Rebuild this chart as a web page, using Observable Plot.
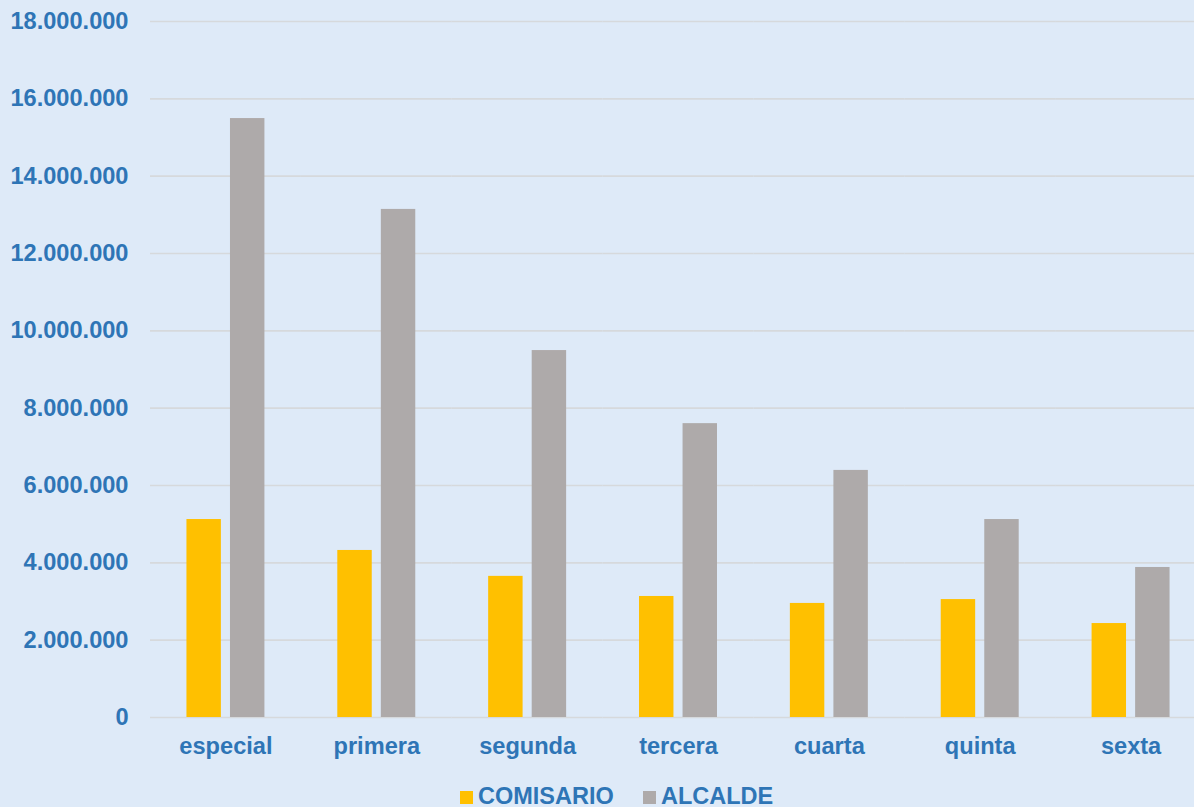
<!DOCTYPE html>
<html>
<head>
<meta charset="utf-8">
<script src="https://cdn.jsdelivr.net/npm/d3@7"></script>
<script src="https://cdn.jsdelivr.net/npm/@observablehq/plot@0.6"></script>
<style>
  html, body { margin: 0; padding: 0; background: #DEEAF8; overflow: hidden; }
  body { width: 1194px; height: 807px; font-family: "Liberation Sans", Arial, sans-serif; }
  #chart { width: 1194px; height: 780px; overflow: hidden; }
  #chart svg { max-width: none !important; width: 1206px !important; height: 780px !important; }
  #legend { position: relative; height: 27px; width: 1194px; }
  #legend .sw { position: absolute; width: 13px; height: 13px; top: 11px; }
  #legend .lb { position: absolute; top: 5px; font-size: 23.5px; line-height: 23px; font-weight: bold; color: #2E75B6; white-space: nowrap; }
</style>
</head>
<body>
<div id="chart"></div>
<div id="legend"></div>
<script>
const categories = ["especial", "primera", "segunda", "tercera", "cuarta", "quinta", "sexta"];
const seriesNames = ["COMISARIO", "ALCALDE"];
const comisario = [5120000, 4320000, 3650000, 3130000, 2950000, 3050000, 2430000];
const alcalde = [15490000, 13140000, 9490000, 7600000, 6390000, 5120000, 3880000];
const yTicks = [0, 2000000, 4000000, 6000000, 8000000, 10000000, 12000000, 14000000, 16000000, 18000000];
const colors = ["#FFC000", "#AEAAAA"];

const data = [];
categories.forEach((c, i) => {
  data.push({cat: c, series: seriesNames[0], value: comisario[i]});
  data.push({cat: c, series: seriesNames[1], value: alcalde[i]});
});

const fmt = d3.formatLocale({decimal: ",", thousands: ".", grouping: [3], currency: ["", "€"]}).format(",d");

const chart = Plot.plot({
  width: 1206,
  height: 780,
  marginLeft: 150,
  marginRight: 0,
  marginTop: 21,
  marginBottom: 63,
  style: {
    background: "#DEEAF8",
    color: "#2E75B6",
    fontFamily: "'Liberation Sans', Arial, sans-serif",
    fontSize: "23.6px",
    fontWeight: "bold",
    maxWidth: "none"
  },
  fx: {domain: categories, padding: 0, round: false, axis: "bottom", label: null, tickSize: 0, tickPadding: 20},
  x: {domain: seriesNames, paddingInner: 0.209, paddingOuter: 0.837, round: false, axis: null},
  y: {domain: [0, 18000000], ticks: yTicks, tickFormat: fmt, tickSize: 0, tickPadding: 22, label: null},
  color: {domain: seriesNames, range: colors},
  marks: [
    Plot.ruleY(yTicks, {stroke: "#D6D9DC", strokeWidth: 1.6}),
    Plot.barY(data, {fx: "cat", x: "series", y: "value", fill: "series"})
  ]
});
document.getElementById("chart").appendChild(chart);

const legend = document.getElementById("legend");
const items = [
  {name: seriesNames[0], color: colors[0], sw: 460, lb: 478},
  {name: seriesNames[1], color: colors[1], sw: 643, lb: 661}
];
items.forEach(it => {
  const s = document.createElement("div");
  s.className = "sw"; s.style.left = it.sw + "px"; s.style.background = it.color;
  legend.appendChild(s);
  const t = document.createElement("div");
  t.className = "lb"; t.style.left = it.lb + "px"; t.textContent = it.name;
  legend.appendChild(t);
});
</script>
</body>
</html>
